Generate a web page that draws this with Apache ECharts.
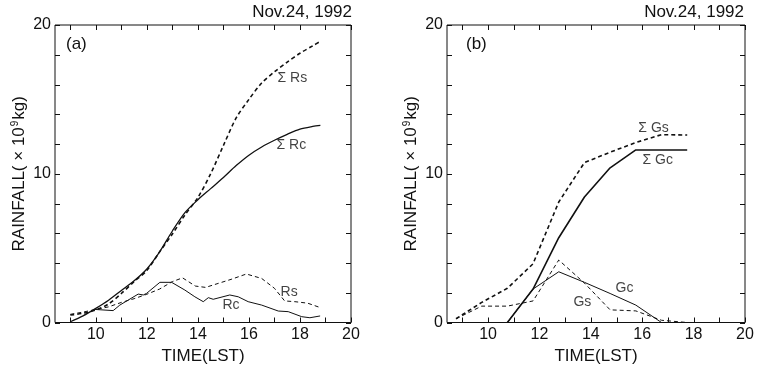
<!DOCTYPE html>
<html>
<head>
<meta charset="utf-8">
<script src="https://cdn.jsdelivr.net/npm/echarts@6/dist/echarts.min.js"></script>
<style>
  html, body { margin: 0; padding: 0; background: #fff; }
  #chart { width: 757px; height: 372px; }
</style>
</head>
<body>
<div id="chart"></div>
<script>
// panel (a): accumulated and instantaneous rainfall (x10^9 kg)
const sumTimes = [9.0, 9.5, 10, 10.5, 11, 11.5, 12, 12.5, 13, 13.5, 14, 14.5, 15, 15.5, 16, 16.5, 17, 17.5, 18, 18.5, 18.8];
const sumRs = [0.5, 0.62, 0.84, 1.25, 1.95, 2.75, 3.5, 4.75, 5.95, 7.25, 8.4, 10.0, 11.9, 13.75, 15.0, 16.1, 16.85, 17.5, 18.1, 18.6, 18.9];
const sumRc = [0.05, 0.45, 0.95, 1.5, 2.15, 2.8, 3.6, 4.75, 6.15, 7.4, 8.25, 9.0, 9.75, 10.55, 11.25, 11.8, 12.25, 12.65, 13.0, 13.18, 13.25];

const rsTimes = [9.0, 9.5, 10.0, 10.5, 11.0, 11.5, 12.0, 12.5, 13.0, 13.4, 13.9, 14.3, 14.8, 15.3, 15.9, 16.5, 17.0, 17.4, 17.8, 18.3, 18.8];
const rsValues = [0.55, 0.7, 0.88, 1.05, 1.35, 1.6, 1.9, 2.25, 2.75, 3.0, 2.45, 2.36, 2.63, 2.9, 3.26, 2.96, 2.3, 1.45, 1.4, 1.3, 1.0];

const rcTimes = [9.95, 10.68, 10.94, 11.66, 11.86, 11.99, 12.51, 12.97, 13.49, 13.88, 14.21, 14.41, 14.6, 15.25, 15.58, 15.97, 16.5, 17.15, 17.54, 18.07, 18.39, 18.79];
const rcValues = [0.88, 0.8, 1.17, 1.91, 1.85, 1.96, 2.7, 2.7, 2.18, 1.73, 1.4, 1.67, 1.56, 1.85, 1.73, 1.4, 1.17, 0.77, 0.73, 0.39, 0.32, 0.44];

// panel (b): hourly values
const gTimes = [8.75, 9.75, 10.75, 11.75, 12.75, 13.75, 14.75, 15.75, 16.75, 17.75];
const sumGs = [0.25, 1.35, 2.3, 3.95, 8.1, 10.75, 11.45, 12.1, 12.63, 12.6];
const sumGc = [null, null, 0, 2.25, 5.7, 8.44, 10.4, 11.6, 11.6, 11.6];
const gsValues = [0.25, 1.1, 1.1, 1.45, 4.2, 2.65, 0.85, 0.78, 0.15, 0.0];
const gcValues = [null, null, 0, 2.25, 3.41, 2.7, 1.95, 1.17, 0, null];

// axes
const xTicks = [9, 10, 11, 12, 13, 14, 15, 16, 17, 18, 19, 20];
const yTicks = [0, 2, 4, 6, 8, 10, 12, 14, 16, 18, 20];
const xLabels = [10, 12, 14, 16, 18, 20];
const yLabels = [0, 10, 20];

// curve labels, in data units
const labelsA = [
  { text: "Σ Rs", at: [17.1, 16.45] },
  { text: "Σ Rc", at: [17.06, 11.94] },
  { text: "Rs", at: [17.22, 2.06] },
  { text: "Rc", at: [14.94, 1.19] },
];
const labelsB = [
  { text: "Σ Gs", at: [15.83, 13.08] },
  { text: "Σ Gc", at: [15.99, 10.93] },
  { text: "Gc", at: [14.94, 2.33] },
  { text: "Gs", at: [13.3, 1.39] },
];

const FONT = "Liberation Sans, Arial, sans-serif";
const INK = "#111";
const TICK = 5;
const X_MIN = 8.4;
const pairs = (xs, ys) => xs.map((x, i) => [x, ys[i]]);

const chart = echarts.init(document.getElementById("chart"), null, { renderer: "canvas" });

const grids = [
  { left: 55, top: 25, width: 296, height: 297.5, show: true, borderColor: INK, borderWidth: 1 },
  { left: 447, top: 25, width: 298, height: 297.5, show: true, borderColor: INK, borderWidth: 1 },
];

const xAxes = [0, 1].map((g) => ({
  type: "value",
  gridIndex: g,
  min: X_MIN,
  max: 20,
  name: "TIME(LST)",
  nameLocation: "middle",
  nameGap: 20,
  nameTextStyle: { fontFamily: FONT, fontSize: 17, color: INK },
  axisLine: { show: false },
  axisTick: { show: false },
  axisLabel: { customValues: xLabels, margin: 4, fontFamily: FONT, fontSize: 16, color: INK },
  splitLine: { show: false },
}));

const yAxes = [0, 1].map((g) => ({
  type: "value",
  gridIndex: g,
  min: 0,
  max: 20,
  interval: 2,
  name: "{a|RAINFALL( × 10}{s|9}{a|kg)}",
  nameLocation: "middle",
  nameGap: 27,
  nameRotate: 90,
  nameTextStyle: {
    rich: {
      a: { fontFamily: FONT, fontSize: 17, color: INK },
      s: { fontFamily: FONT, fontSize: 10, color: INK, verticalAlign: "top", padding: [0, 1, 8, 1] },
    },
  },
  axisLine: { show: false },
  axisTick: { show: false },
  axisLabel: { customValues: yLabels, margin: 4, fontFamily: FONT, fontSize: 16, color: INK },
  splitLine: { show: false },
}));

// inward ticks on all four sides, placed through the axes' own scales
function tickSeries(g) {
  const seg = (x1, y1, x2, y2) => ({ type: "line", shape: { x1, y1, x2, y2 }, style: { stroke: INK, lineWidth: 1 } });
  const data = xTicks.map((v) => ["x", v]).concat(yTicks.map((v) => ["y", v]));
  return {
    type: "custom",
    xAxisIndex: g,
    yAxisIndex: g,
    silent: true,
    clip: false,
    data: data,
    dimensions: ["side", "v"],
    renderItem: (params, api) => {
      const cs = params.coordSys;
      const item = data[params.dataIndex];
      if (item[0] === "x") {
        const x = Math.round(api.coord([item[1], 0])[0]) + 0.5;
        return { type: "group", children: [seg(x, cs.y + cs.height, x, cs.y + cs.height - TICK), seg(x, cs.y, x, cs.y + TICK)] };
      }
      const y = Math.round(api.coord([X_MIN, item[1]])[1]) + 0.5;
      return { type: "group", children: [seg(cs.x, y, cs.x + TICK, y), seg(cs.x + cs.width, y, cs.x + cs.width - TICK, y)] };
    },
  };
}

function lineSeries(g, data, dashed, width, smooth) {
  return {
    type: "line",
    xAxisIndex: g,
    yAxisIndex: g,
    data: data,
    smooth: smooth,
    symbol: "none",
    connectNulls: false,
    silent: true,
    lineStyle: { color: INK, width: width, type: dashed ? [4, 3] : "solid" },
  };
}

function labelSeries(g, list) {
  return {
    type: "scatter",
    xAxisIndex: g,
    yAxisIndex: g,
    symbolSize: 1,
    itemStyle: { color: "transparent" },
    silent: true,
    data: list.map((d) => ({ value: d.at, name: d.text })),
    label: {
      show: true,
      position: "right",
      distance: 0,
      formatter: (p) => p.name,
      fontFamily: FONT,
      fontSize: 14,
      color: INK,
    },
  };
}

const titleStyle = { fontFamily: FONT, fontSize: 17, fontWeight: "normal", color: INK };

chart.setOption({
  animation: false,
  backgroundColor: "#fff",
  title: [
    { text: "Nov.24, 1992", right: 405, top: 4, padding: 0, textStyle: titleStyle },
    { text: "Nov.24, 1992", right: 13, top: 4, padding: 0, textStyle: titleStyle },
    { text: "(a)", left: 66, top: 36, padding: 0, textStyle: titleStyle },
    { text: "(b)", left: 466, top: 36, padding: 0, textStyle: titleStyle },
  ],
  grid: grids,
  xAxis: xAxes,
  yAxis: yAxes,
  series: [
    tickSeries(0),
    lineSeries(0, pairs(sumTimes, sumRs), true, 1.6, 0.3),
    lineSeries(0, pairs(sumTimes, sumRc), false, 1.3, 0.3),
    lineSeries(0, pairs(rsTimes, rsValues), true, 1, false),
    lineSeries(0, pairs(rcTimes, rcValues), false, 1, false),
    labelSeries(0, labelsA),
    tickSeries(1),
    lineSeries(1, pairs(gTimes, sumGs), true, 1.6, false),
    lineSeries(1, pairs(gTimes, sumGc), false, 1.6, false),
    lineSeries(1, pairs(gTimes, gsValues), true, 1, false),
    lineSeries(1, pairs(gTimes, gcValues), false, 1, false),
    labelSeries(1, labelsB),
  ],
});
</script>
</body>
</html>
